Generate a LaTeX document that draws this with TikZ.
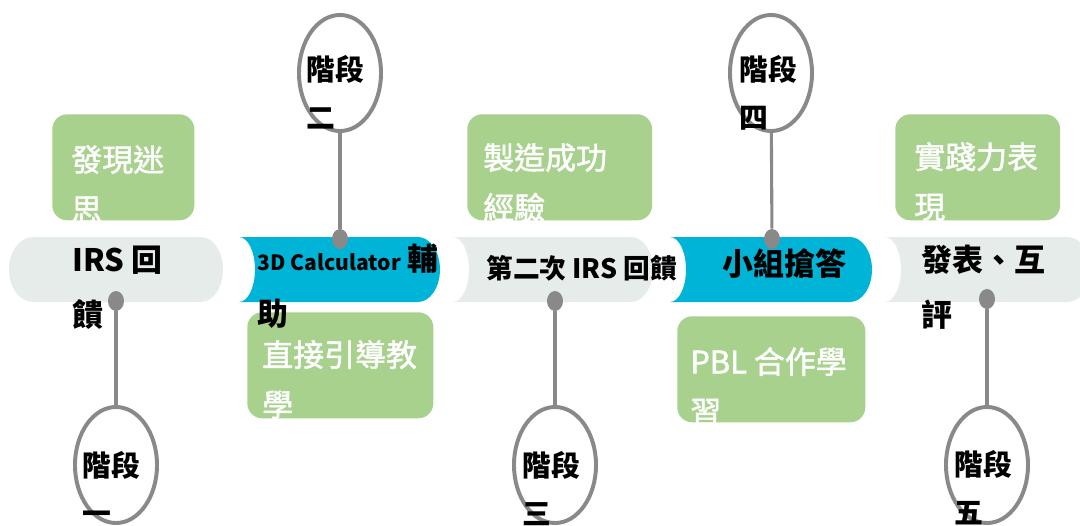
\documentclass[tikz,border=0pt]{standalone}
\usepackage{fontspec}
\setmainfont{Noto Sans CJK TC}
\newfontfamily\goalfont{Noto Sans CJK TC}[RawFeature={embolden=1.6}]
\usetikzlibrary{positioning,shapes.geometric}
\definecolor{bandgray}{HTML}{E6ECEA}
\definecolor{bandblue}{HTML}{00B4D8}
\definecolor{goalgreen}{HTML}{A9D18E}
\definecolor{stemgray}{HTML}{898989}

\begin{document}
\begin{tikzpicture}[
      x=0.025cm, y=-0.025cm,
      goalbox/.style={
        rectangle, fill=goalgreen, rounded corners=0.375cm,
        minimum height=2.65cm, inner sep=0pt, anchor=north west
      },
      goaltext/.style={
        text=white, font=\goalfont\fontsize{22pt}{35.5pt}\selectfont,
        align=left, anchor=north west, inner sep=0pt
      },
      bandtext/.style={
        font=\fontsize{22pt}{39pt}\selectfont\bfseries,
        align=left, anchor=north west, inner sep=0pt
      },
      stagering/.style={
        ellipse, draw=stemgray, line width=2.8pt, fill=white,
        minimum width=2.05cm, minimum height=2.9cm, inner sep=0pt
      },
      stagetext/.style={
        font=\fontsize{20.5pt}{34pt}\selectfont\bfseries,
        align=left, anchor=north west, inner sep=0pt
      },
      stemdot/.style={
        ellipse, fill=stemgray, minimum width=0.4cm,
        minimum height=0.5cm, inner sep=0pt
      },
      stemline/.style={stemgray, line width=2.2pt}
    ]
      \useasboundingbox (0,0) rectangle (1080,526);
      \clip (0,0) rectangle (1080,526);

      % timeline band
      \fill[bandgray] (33,237) -- (201,237)
        arc[start angle=-90, end angle=90, x radius=22, y radius=32.5]
        -- (33,302)
        arc[start angle=90, end angle=270, x radius=24, y radius=32.5] -- cycle;
      \foreach \xl/\xr/\col in {239/418/bandblue, 453/631/bandgray,
                                670/850/bandblue, 885/1068/bandgray}
        \fill[\col] (\xl,237) -- (\xr,237)
          arc[start angle=-90, end angle=90, x radius=22, y radius=32.5]
          -- (\xl,302)
          arc[start angle=90, end angle=-90, x radius=16, y radius=32.5] -- cycle;

      % goals
      \node[goalbox, minimum width=3.55cm] (g1) at (52,114) {};
      \node[goalbox, minimum width=4.65cm] (g2) at (247,312) {};
      \node[goalbox, minimum width=4.62cm] (g3) at (467,114) {};
      \node[goalbox, minimum width=4.7cm] (g4) at (677,316) {};
      \node[goalbox, minimum width=4.12cm] (g5) at (895,114) {};
      \node[goaltext] (g1t) at ([shift={(19,31)}]g1.north west) {發現迷\\思};
      \node[goaltext] (g2t) at ([shift={(15,28)}]g2.north west) {直接引導教\\學};
      \node[goaltext] (g3t) at ([shift={(16,29)}]g3.north west) {製造成功\\經驗};
      \node[goaltext] (g4t) at ([shift={(13,31)}]g4.north west) {PBL 合作學\\習};
      \node[goaltext] (g5t) at ([shift={(19,28)}]g5.north west) {實踐力表\\現};

      % band labels
      \node[bandtext] (t1) at (72,246) {IRS 回\\饋};
      \node[bandtext] (t2) at (257,244)
        {{\fontsize{15pt}{15pt}\selectfont 3D Calculator} 輔\\助};
      \node[bandtext, anchor=west, font=\fontsize{19pt}{24pt}\selectfont\bfseries]
        (t3) at (486,268) {第二次 IRS 回饋};
      \node[bandtext, anchor=west] (t4) at (722,264) {小組搶答};
      \node[bandtext] (t5) at (921,245) {發表、互\\評};

      % stages
      \node[stagering] (s1) at (116,465) {};
      \node[stagering] (s2) at (340,73) {};
      \node[stagering] (s3) at (555,465) {};
      \node[stagering] (s4) at (771,73) {};
      \node[stagering] (s5) at (987,465) {};
      \node[stemdot] (d1) at (116,301) {};
      \node[stemdot] (d2) at (340,239) {};
      \node[stemdot] (d3) at (555,301) {};
      \node[stemdot] (d4) at (772,239) {};
      \node[stemdot] (d5) at (987,299) {};
      \draw[stemline] (d1) -- (s1);
      \draw[stemline] (d2) -- (s2);
      \draw[stemline] (d3) -- (s3);
      \draw[stemline] (d4) -- (s4);
      \draw[stemline] (d5) -- (s5);
      \node[stagetext] (s1t) at ([shift={(-34,-14)}]s1.center) {階段\\一};
      \node[stagetext] (s2t) at ([shift={(-34,-18)}]s2.center) {階段\\二};
      \node[stagetext] (s3t) at ([shift={(-33,-14)}]s3.center) {階段\\三};
      \node[stagetext] (s4t) at ([shift={(-32,-18)}]s4.center) {階段\\四};
      \node[stagetext] (s5t) at ([shift={(-33,-15)}]s5.center) {階段\\五};
    \end{tikzpicture}
\end{document}
